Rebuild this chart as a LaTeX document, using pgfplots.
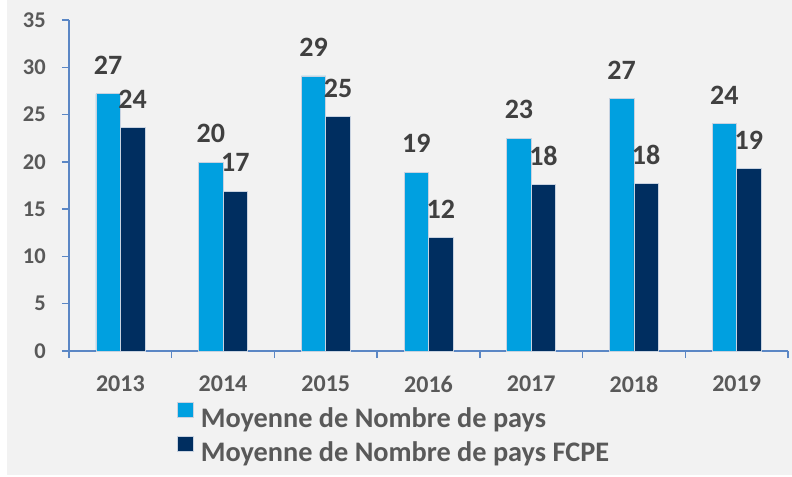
\documentclass[border=0pt]{standalone}
\usepackage{fontspec}
\setmainfont{Carlito}
\usepackage{pgfplots}
\usepackage{pgfplotstable}
\pgfplotsset{compat=1.18}
\definecolor{bgc}{HTML}{F2F2F2}
\definecolor{lb}{HTML}{00A0E0}
\definecolor{db}{HTML}{002E60}
\definecolor{axc}{HTML}{5B87C5}
\definecolor{tl}{HTML}{595959}
\definecolor{dl}{HTML}{404040}
\definecolor{edge}{HTML}{C8D2E0}

\pgfplotstableread{
x y lab
0 27.2 27
1 19.98 20
2 29.08 29
3 18.9 19
4 22.5 23
5 26.7 27
6 24.04 24
}\lighttab
\pgfplotstableread{
x y lab
0 23.65 24
1 16.9 17
2 24.77 25
3 11.98 12
4 17.6 18
5 17.7 18
6 19.3 19
}\darktab

\begin{document}
\begin{tikzpicture}
\useasboundingbox (-69bp,-126bp) rectangle (723bp,351bp);
\fill[bgc] (-62bp,-124bp) rectangle (723bp,351bp);
\begin{axis}[
  at={(0,0)}, anchor=south west,
  scale only axis, width=719bp, height=331bp,
  xmin=-0.5, xmax=6.5, ymin=0, ymax=35,
  ybar=0pt, bar width=24.5bp,
  axis x line*=bottom, axis y line*=left,
  axis line style={draw=axc, line width=1.5bp, -},
  tick align=outside,
  major tick length=7bp, minor tick length=7bp,
  tick style={draw=axc, line width=1.5bp},
  every major x tick/.append style={draw=none},
  ytick={0,5,...,35},
  xtick={0,...,6},
  xticklabels={2013,2014,2015,2016,2017,2018,2019},
  minor xtick={-0.5,0.5,...,6.5},
  /pgf/number format/assume math mode=true,
  yticklabel style={font=\fontsize{22.5bp}{25bp}\selectfont\bfseries, text=tl, inner sep=0pt, anchor=east, xshift=-16bp},
  xticklabel style={font=\fontsize{24bp}{27bp}\selectfont\bfseries, text=tl, inner sep=0pt, anchor=north, yshift=-17.5bp},
  nodes near coords,
  point meta=explicit symbolic,
  every node near coord/.append style={font=\fontsize{28bp}{31bp}\selectfont\bfseries, text=dl, inner sep=0pt, anchor=south, yshift=19bp},
  legend style={draw=none, fill=none, inner sep=0pt, at={(0.15021,-0.1541)}, anchor=north west,
    nodes={inner sep=0pt, text height=18bp, text depth=0bp, font=\fontsize{28.3bp}{32bp}\selectfont\bfseries, text=tl},
    row sep=9bp,
    /tikz/every odd column/.append style={column sep=7bp}},
  legend cell align=left,
  legend image code/.code={\fill[#1] (0bp,0.7bp) rectangle (16bp,15.7bp);},
]
\addplot[fill=lb, draw=edge, line width=0.6bp] table[x=x, y=y, meta=lab] {\lighttab};
\addplot[fill=db, draw=edge, line width=0.6bp] table[x=x, y=y, meta=lab] {\darktab};
\legend{Moyenne de Nombre de pays, Moyenne de Nombre de pays FCPE}
\end{axis}
\end{tikzpicture}
\end{document}
